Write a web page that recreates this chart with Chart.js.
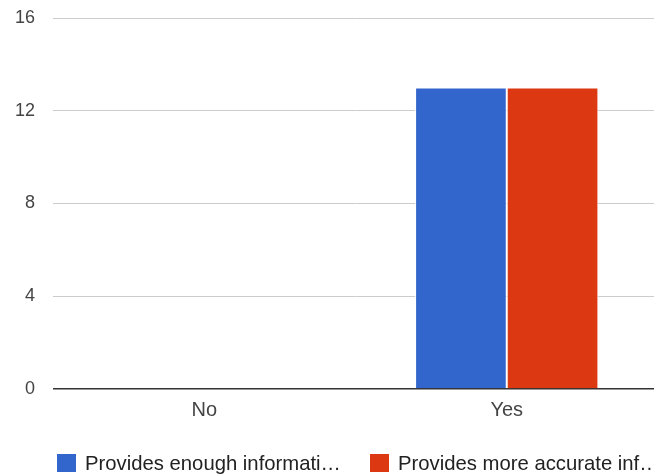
<!DOCTYPE html>
<html>
<head>
<meta charset="utf-8">
<script src="https://cdn.jsdelivr.net/npm/chart.js@4"></script>
<style>
  html, body { margin: 0; padding: 0; background: #fff; overflow: hidden; }
  #wrap { width: 654px; height: 475px; overflow: hidden; }
</style>
</head>
<body>
<div id="wrap"><canvas id="myChart" width="658" height="475"></canvas></div>
<script>
// answers per category
const categories = ["No", "Yes"];
const enoughInfo = [0, 13];
const moreAccurate = [0, 13];
const seriesNames = ["Provides enough informati\u2026", "Provides more accurate inf\u2026"];
const yTicks = [0, 4, 8, 12, 16];

const FONT = "'Liberation Sans', Arial, sans-serif";

// legend drawn under the axis, left aligned
const bottomLegend = {
    id: "bottomLegend",
    afterDraw(chart) {
        const ctx = chart.ctx;
        const xs = [57, 370];
        ctx.save();
        ctx.font = "20.3px " + FONT;
        ctx.textBaseline = "middle";
        chart.data.datasets.forEach((ds, i) => {
            ctx.fillStyle = ds.backgroundColor;
            ctx.fillRect(xs[i], 454, 19, 18);
            ctx.fillStyle = "#222";
            ctx.fillText(ds.label, xs[i] + 28, 464);
        });
        ctx.restore();
    }
};

const data = {
    labels: categories,
    datasets: [{
        label: seriesNames[0],
        data: enoughInfo,
        backgroundColor: "#3366cc",
        borderColor: "#ffffff",
        borderWidth: 1
    }, {
        label: seriesNames[1],
        data: moreAccurate,
        backgroundColor: "#dc3912",
        borderColor: "#ffffff",
        borderWidth: 1
    }]
};

const config = {
    type: "bar",
    data: data,
    plugins: [bottomLegend],
    options: {
        responsive: false,
        animation: false,
        layout: {
            padding: { left: 0, right: 0, top: 18, bottom: 52 }
        },
        datasets: {
            bar: { categoryPercentage: 0.606, barPercentage: 1.0 }
        },
        plugins: {
            legend: { display: false },
            tooltip: { enabled: false }
        },
        scales: {
            x: {
                grid: { display: false },
                border: { display: false },
                ticks: {
                    color: "#444",
                    font: { family: FONT, size: 20 },
                    padding: 1
                }
            },
            y: {
                min: 0,
                max: 16,
                afterFit: (scale) => {
                    scale.width = 53;
                    scale.paddingTop = 0;
                    scale.paddingBottom = 0;
                },
                afterBuildTicks: (scale) => {
                    scale.ticks = yTicks.map(v => ({ value: v }));
                },
                border: { display: false },
                grid: {
                    drawTicks: false,
                    color: (c) => c.tick && c.tick.value === 0 ? "#333" : "#cccccc",
                    lineWidth: (c) => c.tick && c.tick.value === 0 ? 1.5 : 1
                },
                ticks: {
                    color: "#444",
                    font: { family: FONT, size: 18 },
                    padding: 18
                }
            }
        }
    }
};

const myChart = new Chart(document.getElementById("myChart"), config);
</script>
</body>
</html>
